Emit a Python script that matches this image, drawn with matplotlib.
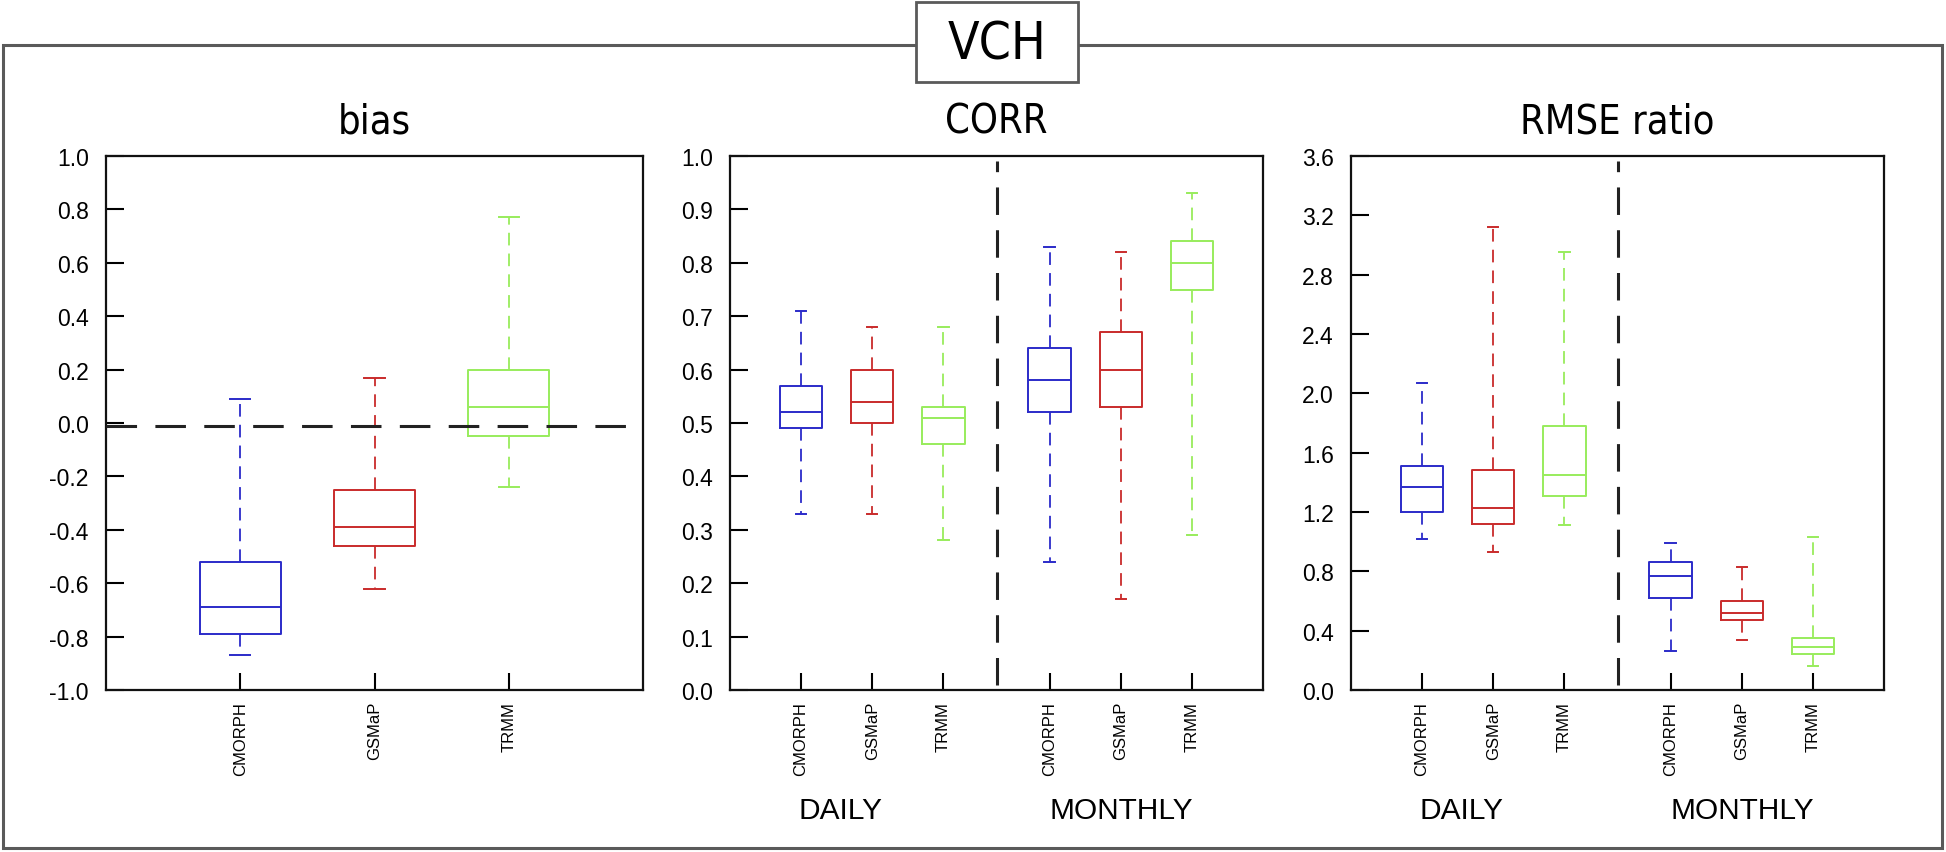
import matplotlib
matplotlib.use("Agg")
import matplotlib.pyplot as plt
from matplotlib.patches import Rectangle

# ---------------- data ----------------
products = ["CMORPH", "GSMaP", "TRMM"]
box_colors = ["#2b2bc9", "#c92b2b", "#98ec5c"]

# bias (one box per product): low whisker, Q1, median, Q3, high whisker
bias_low = [-0.87, -0.62, -0.24]
bias_q1 = [-0.79, -0.46, -0.05]
bias_med = [-0.69, -0.39, 0.06]
bias_q3 = [-0.52, -0.25, 0.20]
bias_high = [0.09, 0.17, 0.77]
bias_ref = -0.01

# CORR: DAILY (CMORPH, GSMaP, TRMM) then MONTHLY (CMORPH, GSMaP, TRMM)
corr_low = [0.33, 0.33, 0.28, 0.24, 0.17, 0.29]
corr_q1 = [0.49, 0.50, 0.46, 0.52, 0.53, 0.75]
corr_med = [0.52, 0.54, 0.51, 0.58, 0.60, 0.80]
corr_q3 = [0.57, 0.60, 0.53, 0.64, 0.67, 0.84]
corr_high = [0.71, 0.68, 0.68, 0.83, 0.82, 0.93]

# RMSE ratio: DAILY then MONTHLY
rmse_low = [1.02, 0.93, 1.11, 0.26, 0.34, 0.16]
rmse_q1 = [1.20, 1.12, 1.31, 0.62, 0.47, 0.24]
rmse_med = [1.37, 1.23, 1.45, 0.77, 0.52, 0.29]
rmse_q3 = [1.51, 1.48, 1.78, 0.86, 0.60, 0.35]
rmse_high = [2.07, 3.12, 2.95, 0.99, 0.83, 1.03]

bias_ticks = [-1.0, -0.8, -0.6, -0.4, -0.2, 0.0, 0.2, 0.4, 0.6, 0.8, 1.0]
corr_ticks = [0.0, 0.1, 0.2, 0.3, 0.4, 0.5, 0.6, 0.7, 0.8, 0.9, 1.0]
rmse_ticks = [0.0, 0.4, 0.8, 1.2, 1.6, 2.0, 2.4, 2.8, 3.2, 3.6]

titles = ["bias", "CORR", "RMSE ratio"]
group_labels = ["DAILY", "MONTHLY"]
main_title = "VCH"

# ---------------- styling ----------------
W, H = 1946, 853
fig = plt.figure(figsize=(W / 100, H / 100), dpi=100)
plt.rcParams['axes.unicode_minus'] = False
TICKFONT = "Liberation Sans"
TITLEFONT = {"family": "DejaVu Sans", "stretch": "condensed"}


def px_axes(left, right, top, bottom):
    return fig.add_axes([left / W, 1 - bottom / H, (right - left) / W, (bottom - top) / H])


def make_stats(low, q1, med, q3, high):
    return [dict(whislo=a, q1=b, med=c, q3=d, whishi=e, fliers=[])
            for a, b, c, d, e in zip(low, q1, med, q3, high)]


def draw_boxes(ax, stats, positions, colors):
    art = ax.bxp(stats, positions=positions, widths=0.6, capwidths=0.15,
                 showfliers=False, manage_ticks=False, patch_artist=False)
    for i, c in enumerate(colors):
        art['boxes'][i].set(color=c, linewidth=1.4)
        art['medians'][i].set(color=c, linewidth=1.4)
        for w in art['whiskers'][2 * i:2 * i + 2]:
            w.set(color=c, linewidth=1.3, linestyle=(0, (7, 4.5)))
        for cp in art['caps'][2 * i:2 * i + 2]:
            cp.set(color=c, linewidth=1.4)


def style_axes(ax, ticks, ylim, title):
    ax.set_ylim(*ylim)
    ax.set_yticks(ticks)
    ax.set_yticklabels([f"{t:.1f}" for t in ticks], fontfamily=TICKFONT, fontsize=16.5)
    for s in ax.spines.values():
        s.set_linewidth(1.6)
        s.set_color("#111111")
    ax.tick_params(axis='y', direction='in', length=13, width=1.5, pad=12.5,
                   right=False, left=True)
    ax.tick_params(axis='x', direction='in', length=12.5, width=1.5, pad=8,
                   top=False, bottom=True)
    ax.set_title(title, fontsize=28.5, pad=17, **TITLEFONT)


# ---- outer frame and title box ----
fig.add_artist(Rectangle((3 / W, 1 - 849 / H), (1942 - 3) / W, (849 - 46) / H,
                         transform=fig.transFigure, fill=False,
                         edgecolor="#5a5a5a", linewidth=2.2, zorder=0))
fig.add_artist(Rectangle((916 / W, 1 - 83 / H), (1078 - 916) / W, (83 - 3) / H,
                         transform=fig.transFigure, facecolor="white",
                         edgecolor="#5a5a5a", linewidth=2.0, zorder=1))
fig.text(997 / W, 1 - 45 / H, main_title, ha='center', va='center',
         fontsize=37, zorder=2, **TITLEFONT)

# ---- panel 1: bias ----
ax1 = px_axes(106, 643, 157, 691)
pos1 = [1, 2, 3]
ax1.set_xlim(0, 4)
draw_boxes(ax1, make_stats(bias_low, bias_q1, bias_med, bias_q3, bias_high), pos1, box_colors)
ax1.axhline(bias_ref, color="#222222", linewidth=2.2, dashes=(10, 6), zorder=3)
ax1.set_xticks(pos1)
ax1.set_xticklabels(products, rotation=90, fontfamily=TICKFONT, fontsize=12)
style_axes(ax1, bias_ticks, (-1.0, 1.0), titles[0])

# ---- panels 2 and 3 ----
pos2 = [1, 2, 3, 4.5, 5.5, 6.5]
group_x = [1.55, 5.5]
for (l, r), low, q1, med, q3, high, ticks, ylim, title in [
        ((730, 1263), corr_low, corr_q1, corr_med, corr_q3, corr_high, corr_ticks, (0.0, 1.0), titles[1]),
        ((1351, 1884), rmse_low, rmse_q1, rmse_med, rmse_q3, rmse_high, rmse_ticks, (0.0, 3.6), titles[2])]:
    ax = px_axes(l, r, 157, 691)
    ax.set_xlim(0, 7.5)
    draw_boxes(ax, make_stats(low, q1, med, q3, high), pos2, box_colors * 2)
    ax.axvline(3.75, ymin=0.01, ymax=0.99, color="#222222", linewidth=2.2, dashes=(9, 5))
    ax.set_xticks(pos2)
    ax.set_xticklabels(products * 2, rotation=90, fontfamily=TICKFONT, fontsize=12)
    style_axes(ax, ticks, ylim, title)
    for gx, gl in zip(group_x, group_labels):
        ax.text(gx, -0.225, gl, transform=ax.get_xaxis_transform(), ha='center',
                va='center', fontsize=21.5, fontfamily=TICKFONT)

fig.savefig("out.png", dpi=100)
